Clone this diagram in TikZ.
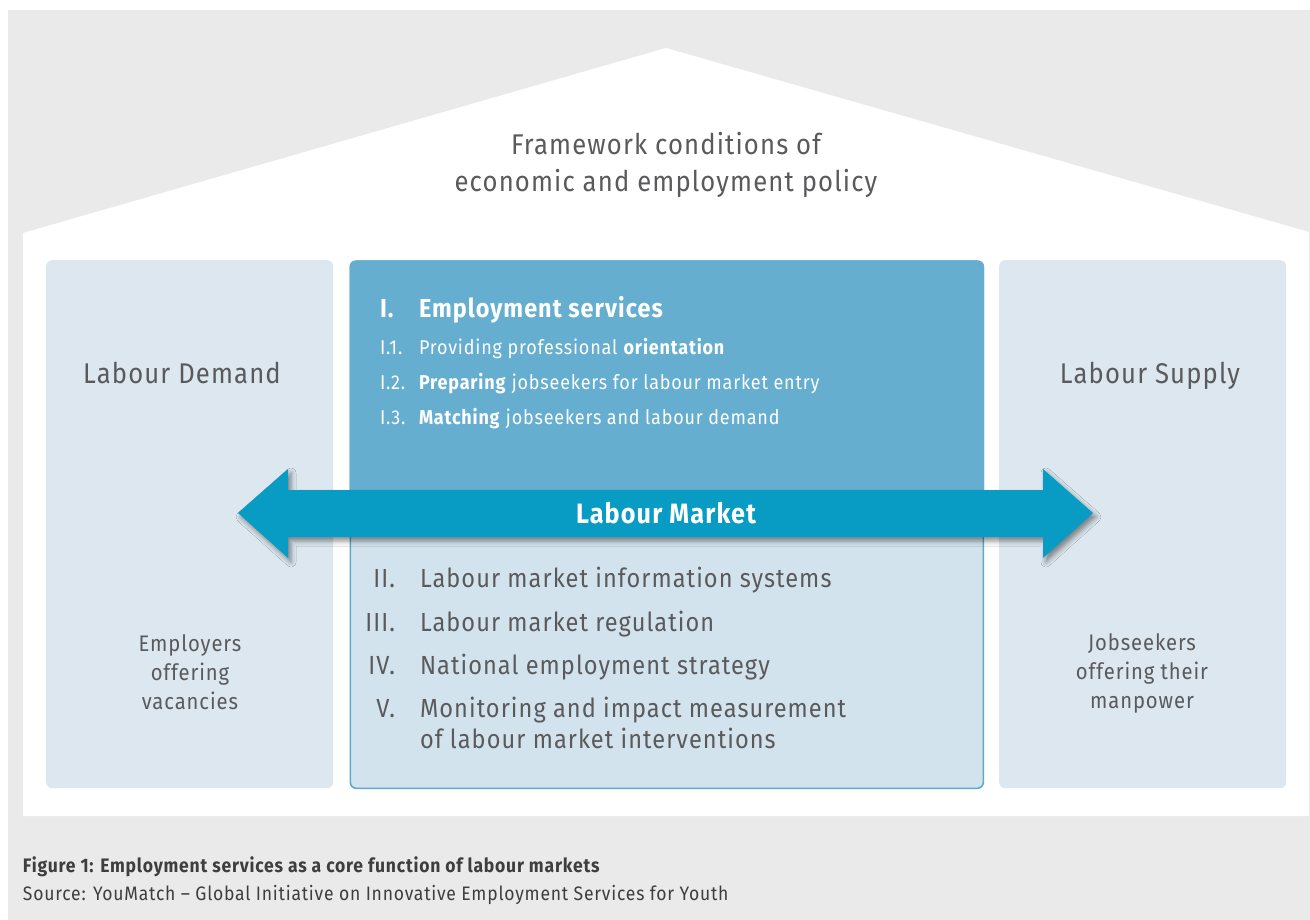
\documentclass[tikz,border=0pt]{standalone}
\usepackage{fontspec}
\setmainfont{Fira Sans}[FakeStretch=0.9,LetterSpace=4]
\usetikzlibrary{shadows.blur}
\definecolor{pagegrey}{HTML}{EAEAEA}
\definecolor{sidefill}{HTML}{DCE7EF}
\definecolor{servfill}{HTML}{66AED0}
\definecolor{lowfill}{HTML}{D3E3EE}
\definecolor{lowline}{HTML}{5EAACE}
\definecolor{arrowblue}{HTML}{089CC5}
\definecolor{inkgrey}{HTML}{5A5A5C}
\definecolor{capgrey}{HTML}{3E3E3E}
\newcommand\fsz[2]{\fontsize{#1}{#2}\selectfont}
\begin{document}
\begin{tikzpicture}[x=1pt,y=-1pt,
  panel/.style={fill=sidefill, draw=none, rounded corners=6pt, anchor=north west, inner sep=0pt},
  txt/.style={inner sep=0pt, outer sep=0pt, text=inkgrey},
  wtxt/.style={inner sep=0pt, outer sep=0pt, text=white},
  numtxt/.style={txt, anchor=base east},
  itemtxt/.style={txt, anchor=base west},
]
\useasboundingbox (0,0) rectangle (1310,920);
\fill[white] (0,0) rectangle (1310,920);
\fill[pagegrey] (8,10) rectangle (1310,920);
% house outline with gable roof
\fill[white] (23,816) -- (23,233) -- (666,48) -- (1309,232) -- (1309,816) -- cycle;

% roof label (base anchor sits on the last line)
\node[txt, anchor=base, align=center, font=\fsz{28.5}{37}] (frame) at (666,192)
  {Framework conditions of\\economic and employment policy};

% side panels
\node[panel, minimum width=287pt, minimum height=528pt] (demand) at (46,260) {};
\node[panel, minimum width=287pt, minimum height=528pt] (supply) at (999,260) {};

% central panel: light lower part with border, dark upper part
\node[panel, fill=lowfill, draw=lowline, line width=1.6pt, minimum width=633pt, minimum height=527pt] (core) at (349.5,260.5) {};
\fill[servfill] (core.west |- 0,514) {[rounded corners=6pt] -- (core.north west) -- (core.north east)} -- (core.east |- 0,514) -- cycle;

% side panel texts
\node[txt, anchor=base, font=\fsz{28.5}{36}] (demandtitle) at (182,383) {Labour Demand};
\node[txt, anchor=base, font=\fsz{28.5}{36}] (supplytitle) at (1150,383) {Labour Supply};
\node[txt, anchor=base, align=center, font=\fsz{22.5}{29}] (employers) at (190,709)
  {Employers\\offering\\vacancies};
\node[txt, anchor=base, align=center, font=\fsz{22.5}{29}] (jobseekers) at (1142,708)
  {Jobseekers\\offering their\\manpower};

% employment services
\node[wtxt, anchor=base west, font=\fsz{26}{32}\bfseries] (n1) at (380,317) {I.};
\node[wtxt, anchor=base west, font=\fsz{26}{32}\bfseries] (t1) at (419,317) {Employment services};
\node[wtxt, anchor=base west, font=\fsz{20}{26}] (n11) at (380,354) {I.1.};
\node[wtxt, anchor=base west, font=\fsz{20}{26}] (t11) at (419,354) {Providing professional \textbf{orientation}};
\node[wtxt, anchor=base west, font=\fsz{20}{26}] (n12) at (380,389) {I.2.};
\node[wtxt, anchor=base west, font=\fsz{20}{26}] (t12) at (419,389) {\textbf{Preparing} jobseekers for labour market entry};
\node[wtxt, anchor=base west, font=\fsz{20}{26}] (n13) at (380,424) {I.3.};
\node[wtxt, anchor=base west, font=\fsz{20}{26}] (t13) at (419,424) {\textbf{Matching} jobseekers and labour demand};

% labour market double arrow
\fill[arrowblue, blur shadow={shadow xshift=3pt, shadow yshift=-4pt, shadow blur radius=5pt, shadow opacity=45}]
  (238,513) -- (288,469) -- (288,490) -- (1043,490) -- (1043,469) -- (1093,513)
  -- (1043,558) -- (1043,537) -- (288,537) -- (288,558) -- cycle;
\node[wtxt, anchor=base, font=\fsz{28}{32}\bfseries] (market) at (666,523) {Labour Market};

% further labour market functions
\node[numtxt, font=\fsz{26.2}{32}] (n2) at (395,587) {II.};
\node[itemtxt, font=\fsz{26.2}{32}] (t2) at (420,587) {Labour market information systems};
\node[numtxt, font=\fsz{26.2}{32}] (n3) at (395,631) {III.};
\node[itemtxt, font=\fsz{26.2}{32}] (t3) at (420,631) {Labour market regulation};
\node[numtxt, font=\fsz{26.2}{32}] (n4) at (395,674) {IV.};
\node[itemtxt, font=\fsz{26.2}{32}] (t4) at (420,674) {National employment strategy};
\node[numtxt, font=\fsz{26.2}{32}] (n5) at (395,717) {V.};
\node[itemtxt, font=\fsz{26.2}{31}, align=left] (t5) at (420,748) {Monitoring and impact measurement\\of labour market interventions};

% caption
\node[txt, text=capgrey, anchor=base west, font=\fsz{19.5}{20}\bfseries] (caption) at (23,872)
  {Figure 1: Employment services as a core function of labour markets};
\node[txt, text=capgrey, anchor=base west, font=\fsz{19.5}{20}] (source) at (23,900)
  {Source: YouMatch – Global Initiative on Innovative Employment Services for Youth};
\end{tikzpicture}
\end{document}
